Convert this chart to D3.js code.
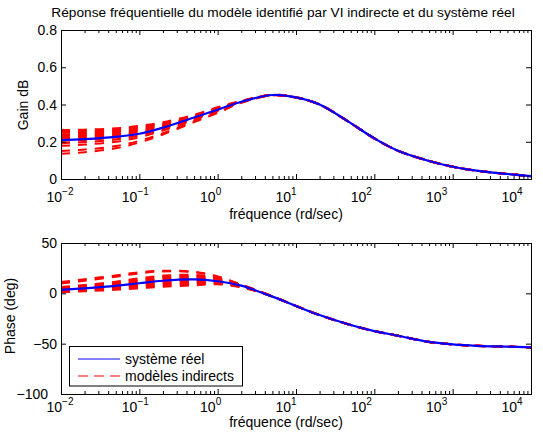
<!DOCTYPE html>
<html>
<head>
<meta charset="utf-8">
<script src="https://cdn.jsdelivr.net/npm/d3@7"></script>
<style>
body { margin: 0; background: #fff; }
text { font-family: "Liberation Sans", Arial, sans-serif; fill: #000; }
</style>
</head>
<body>
<script>
var width = 543, height = 439;

// frequences (rd/sec)
var freqs = [0.01, 0.02, 0.05, 0.1, 0.2, 0.5, 1, 2, 5, 10, 20, 50, 100, 200, 500, 1000, 2000, 5000, 10000];

// systeme reel
var gainReel  = [0.209, 0.214, 0.226, 0.243, 0.276, 0.330, 0.372, 0.415, 0.451, 0.438, 0.400, 0.300, 0.218, 0.152, 0.097, 0.066, 0.045, 0.027, 0.015];
var phaseReel = [3.4, 5.0, 7.5, 10.0, 12.5, 13.8, 12.0, 7.6, -3.3, -12.6, -21.6, -31.5, -37.5, -42.1, -48.3, -50.7, -52.1, -53.0, -53.6];

// modeles indirects (un tableau par modele)
var gainModeles = [
  [0.263, 0.265, 0.272, 0.285, 0.305, 0.345, 0.385, 0.420, 0.452, 0.439, 0.401, 0.301, 0.219, 0.152, 0.098, 0.066, 0.045, 0.027, 0.015],
  [0.255, 0.258, 0.266, 0.280, 0.300, 0.342, 0.382, 0.418, 0.452, 0.439, 0.400, 0.301, 0.218, 0.152, 0.097, 0.066, 0.045, 0.027, 0.015],
  [0.248, 0.251, 0.259, 0.274, 0.296, 0.339, 0.380, 0.417, 0.451, 0.438, 0.400, 0.300, 0.218, 0.151, 0.097, 0.066, 0.045, 0.027, 0.015],
  [0.240, 0.243, 0.252, 0.268, 0.292, 0.336, 0.378, 0.417, 0.451, 0.438, 0.401, 0.300, 0.219, 0.152, 0.098, 0.066, 0.045, 0.027, 0.016],
  [0.232, 0.236, 0.246, 0.262, 0.288, 0.334, 0.376, 0.416, 0.451, 0.439, 0.400, 0.299, 0.218, 0.152, 0.097, 0.066, 0.044, 0.027, 0.015],
  [0.224, 0.228, 0.239, 0.256, 0.284, 0.332, 0.374, 0.416, 0.451, 0.438, 0.399, 0.300, 0.217, 0.152, 0.097, 0.066, 0.045, 0.027, 0.015],
  [0.215, 0.220, 0.232, 0.250, 0.279, 0.329, 0.372, 0.415, 0.451, 0.438, 0.400, 0.300, 0.218, 0.152, 0.097, 0.067, 0.045, 0.027, 0.015],
  [0.205, 0.210, 0.223, 0.243, 0.274, 0.326, 0.370, 0.414, 0.451, 0.437, 0.399, 0.299, 0.218, 0.151, 0.097, 0.066, 0.045, 0.026, 0.015],
  [0.192, 0.198, 0.212, 0.234, 0.267, 0.322, 0.367, 0.413, 0.450, 0.438, 0.400, 0.300, 0.218, 0.152, 0.097, 0.066, 0.045, 0.027, 0.015],
  [0.178, 0.185, 0.200, 0.224, 0.260, 0.318, 0.364, 0.412, 0.450, 0.437, 0.399, 0.299, 0.217, 0.151, 0.096, 0.066, 0.045, 0.027, 0.015],
  [0.150, 0.158, 0.177, 0.205, 0.246, 0.310, 0.358, 0.410, 0.450, 0.438, 0.400, 0.300, 0.218, 0.152, 0.097, 0.066, 0.045, 0.027, 0.015],
  [0.135, 0.144, 0.165, 0.196, 0.239, 0.305, 0.355, 0.409, 0.449, 0.437, 0.399, 0.299, 0.218, 0.151, 0.097, 0.066, 0.045, 0.027, 0.015]
];
var phaseModeles = [
  [1.0, 2.0, 3.5, 5.0, 6.5, 8.0, 9.0, 6.0, -3.0, -12.4, -21.5, -31.4, -37.6, -42.2, -48.2, -50.6, -52.1, -53.0, -53.6],
  [1.5, 2.8, 4.5, 6.2, 7.8, 9.2, 9.8, 6.3, -3.1, -12.5, -21.6, -31.5, -37.5, -42.1, -48.3, -50.7, -52.1, -53.0, -53.6],
  [2.0, 3.4, 5.3, 7.2, 9.0, 10.3, 10.5, 6.6, -3.1, -12.5, -21.5, -31.5, -37.4, -42.1, -48.3, -50.7, -52.2, -53.0, -53.7],
  [2.6, 4.0, 6.0, 8.2, 10.2, 11.4, 11.2, 6.9, -3.2, -12.6, -21.6, -31.6, -37.5, -42.0, -48.2, -50.7, -52.1, -53.1, -53.6],
  [3.0, 4.6, 6.8, 9.2, 11.4, 12.6, 11.9, 7.2, -3.2, -12.6, -21.7, -31.5, -37.5, -42.1, -48.3, -50.8, -52.1, -53.0, -53.6],
  [3.5, 5.2, 7.6, 10.2, 12.5, 13.7, 12.5, 7.5, -3.3, -12.6, -21.6, -31.5, -37.6, -42.1, -48.3, -50.7, -52.0, -53.0, -53.5],
  [4.0, 5.8, 8.4, 11.2, 13.7, 14.8, 13.2, 7.7, -3.3, -12.7, -21.6, -31.4, -37.5, -42.2, -48.3, -50.7, -52.1, -52.9, -53.6],
  [4.6, 6.5, 9.3, 12.3, 14.9, 15.9, 13.9, 7.9, -3.2, -12.6, -21.5, -31.5, -37.5, -42.1, -48.4, -50.7, -52.1, -53.0, -53.6],
  [5.3, 7.3, 10.3, 13.5, 16.2, 17.0, 14.6, 8.1, -3.1, -12.5, -21.6, -31.6, -37.4, -42.1, -48.3, -50.6, -52.1, -53.0, -53.7],
  [6.2, 8.3, 11.5, 15.0, 17.6, 18.3, 15.3, 8.3, -3.0, -12.6, -21.6, -31.5, -37.5, -42.0, -48.3, -50.7, -52.2, -53.0, -53.6],
  [9.8, 12.5, 16.5, 19.8, 21.8, 21.0, 16.5, 8.6, -2.9, -12.5, -21.5, -31.5, -37.5, -42.1, -48.2, -50.7, -52.1, -53.0, -53.6],
  [11.2, 14.0, 17.8, 21.0, 22.4, 21.5, 16.8, 8.8, -2.8, -12.4, -21.6, -31.4, -37.6, -42.1, -48.3, -50.7, -52.1, -53.0, -53.6]
];

// graduations
var xMajor = [1e-2, 1e-1, 1e0, 1e1, 1e2, 1e3, 1e4];
var xExposants = ["\u22122", "\u22121", "0", "1", "2", "3", "4"];
var gainTicks = [0, 0.2, 0.4, 0.6, 0.8];
var gainTickLabels = ["0", "0.2", "0.4", "0.6", "0.8"];
var phaseTicks = [-100, -50, 0, 50];
var phaseTickLabels = ["\u2212100", "\u221250", "0", "50"];

var xMinor = [];
for (var k = -2; k < 4; k++) {
  for (var m = 2; m < 10; m++) xMinor.push(m * Math.pow(10, k));
}

var svg = d3.select("body").append("svg")
    .attr("width", width)
    .attr("height", height);

var x = d3.scaleLog().domain([1e-2, 1e4]).range([61, 531]);
var yGain = d3.scaleLinear().domain([0, 0.8]).range([179, 30]);
var yPhase = d3.scaleLinear().domain([-100, 50]).range([394, 243]);

// les textes de matlab sont legerement decales vers la gauche
function xTexte(px) { return 1.33 + 0.9617 * px; }

svg.append("text")
    .attr("x", 283).attr("y", 17)
    .attr("text-anchor", "middle")
    .style("font-size", "13.7px")
    .text("Réponse fréquentielle du modèle identifié par VI indirecte et du système réel");

function panel(y, ticks, tickLabels, gainOuPhase, modeles, reel, opts) {
  var g = svg.append("g");
  var yb = y.range()[0], yt = y.range()[1];

  var line = d3.line()
      .x(function(d, i) { return x(freqs[i]); })
      .y(function(d) { return y(d); })
      .curve(d3.curveCatmullRom);

  // modeles indirects en rouge
  g.selectAll("path.modele")
      .data(modeles)
      .enter()
      .append("path")
      .attr("class", "modele")
      .attr("d", line)
      .attr("fill", "none")
      .attr("stroke", "#ff0000")
      .attr("stroke-width", 2)
      .attr("stroke-dasharray", "9,8");

  // systeme reel en bleu
  g.append("path")
      .attr("d", line(reel))
      .attr("fill", "none")
      .attr("stroke", "#0000ff")
      .attr("stroke-width", 2.2);

  function noDomain(s) { s.select(".domain").remove(); }

  g.append("g").attr("transform", "translate(0," + yb + ")")
      .call(d3.axisBottom(x).tickValues(xMajor).tickSize(-5).tickFormat("")).call(noDomain);
  g.append("g").attr("transform", "translate(0," + yb + ")")
      .call(d3.axisBottom(x).tickValues(xMinor).tickSize(-3).tickFormat("")).call(noDomain);
  g.append("g").attr("transform", "translate(0," + yt + ")")
      .call(d3.axisTop(x).tickValues(xMajor).tickSize(-5).tickFormat("")).call(noDomain);
  g.append("g").attr("transform", "translate(0," + yt + ")")
      .call(d3.axisTop(x).tickValues(xMinor).tickSize(-3).tickFormat("")).call(noDomain);
  g.append("g").attr("transform", "translate(61,0)")
      .call(d3.axisLeft(y).tickValues(ticks).tickSize(-5).tickFormat("")).call(noDomain);
  g.append("g").attr("transform", "translate(531,0)")
      .call(d3.axisRight(y).tickValues(ticks).tickSize(-5).tickFormat("")).call(noDomain);
  g.selectAll(".tick line").attr("stroke", "#000");

  g.append("rect")
      .attr("x", 61.5).attr("y", yt + 0.5)
      .attr("width", 470).attr("height", yb - yt)
      .attr("fill", "none")
      .attr("stroke", "#000")
      .attr("stroke-width", 1);

  // etiquettes y (la plus basse est poussee a gauche, comme dans matlab)
  g.selectAll("text.ylab")
      .data(ticks)
      .enter()
      .append("text")
      .attr("class", "ylab")
      .attr("x", function(d) { return d === -100 ? 48 : 57; })
      .attr("y", function(d) { return y(d); })
      .attr("dy", "0.36em")
      .attr("text-anchor", "end")
      .style("font-size", "14px")
      .text(function(d, i) { return tickLabels[i]; });

  // etiquettes x : 10^n
  var xl = g.selectAll("text.xlab")
      .data(xMajor)
      .enter()
      .append("text")
      .attr("class", "xlab")
      .attr("x", function(d) { return xTexte(x(d)); })
      .attr("y", opts.tickY)
      .attr("text-anchor", "middle")
      .style("font-size", "14px");
  xl.append("tspan").text("10");
  xl.append("tspan")
      .attr("dy", -7)
      .style("font-size", "10px")
      .text(function(d, i) { return xExposants[i]; });

  g.append("text")
      .attr("x", xTexte(296)).attr("y", opts.labelY)
      .attr("text-anchor", "middle")
      .style("font-size", "14px")
      .text("fréquence (rd/sec)");

  g.append("text")
      .attr("transform", "translate(" + opts.yLabelX + "," + opts.yLabelY + ") rotate(-90)")
      .attr("text-anchor", "middle")
      .style("font-size", "14px")
      .text(gainOuPhase);

  return g;
}

panel(yGain, gainTicks, gainTickLabels, "Gain dB", gainModeles, gainReel,
      { tickY: 202, labelY: 219, yLabelX: 28, yLabelY: 105 });
var gp = panel(yPhase, phaseTicks, phaseTickLabels, "Phase (deg)", phaseModeles, phaseReel,
      { tickY: 412, labelY: 427, yLabelX: 15, yLabelY: 316 });

// legende
var leg = gp.append("g");
leg.append("rect")
    .attr("x", 69.5).attr("y", 346.5)
    .attr("width", 173).attr("height", 39.5)
    .attr("fill", "#fff")
    .attr("stroke", "#000");
leg.append("line")
    .attr("x1", 78).attr("x2", 120).attr("y1", 359).attr("y2", 359)
    .attr("stroke", "#0000ff").attr("stroke-width", 1);
leg.append("text")
    .attr("x", 125).attr("y", 364)
    .style("font-size", "14px")
    .text("système réel");
leg.append("line")
    .attr("x1", 78).attr("x2", 120).attr("y1", 376).attr("y2", 376)
    .attr("stroke", "#ff0000").attr("stroke-width", 1)
    .attr("stroke-dasharray", "10,6");
leg.append("text")
    .attr("x", 125).attr("y", 381)
    .style("font-size", "14px")
    .text("modèles indirects");
</script>
</body>
</html>
